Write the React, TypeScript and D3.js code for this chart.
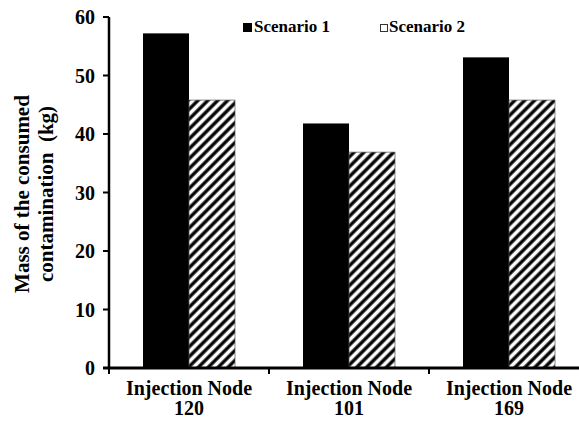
import React from "react";
import * as d3 from "d3";

const categories = ["120", "101", "169"];
const categoryPrefix = "Injection Node";
const seriesNames = ["Scenario 1", "Scenario 2"];
const scenario1 = [57.2, 41.8, 53.1];
const scenario2 = [45.8, 36.9, 45.8];
const yTicks = [0, 10, 20, 30, 40, 50, 60];
const yTitleLines = ["Mass of the consumed", "contamination  (kg)"];

const W = 579;
const H = 421;
const FONT = "'Liberation Serif', 'Times New Roman', serif";

export default function App() {
  const x0 = d3.scaleBand<string>().domain(categories).range([109, 589]).paddingInner(0).paddingOuter(0);
  const x1 = d3.scaleBand<string>().domain(seriesNames).range([0, x0.bandwidth()]).paddingInner(0).paddingOuter(0.739);
  const y = d3.scaleLinear().domain([0, 60]).range([368, 17]);
  const values = [scenario1, scenario2];

  return (
    <svg width={W} height={H} style={{ position: "absolute", left: 0, top: 0, background: "#fff" }} fontFamily={FONT}>
      <defs>
        <linearGradient id="stripeGrad" x1="0" x2="1" y1="0" y2="0">
          <stop offset="0" stopColor="#000" />
          <stop offset="0.28" stopColor="#000" />
          <stop offset="0.5" stopColor="#fff" />
          <stop offset="0.78" stopColor="#fff" />
          <stop offset="1" stopColor="#000" />
        </linearGradient>
        <pattern id="hatch" patternUnits="userSpaceOnUse" width="7" height="20" patternTransform="rotate(45)">
          <rect x="0" y="0" width="7" height="20" fill="url(#stripeGrad)" />
        </pattern>
      </defs>
      <rect x={0} y={0} width={W} height={H} fill="#fff" />
      {categories.map((c, ci) =>
        seriesNames.map((s, si) => {
          const v = values[si][ci];
          const bx = (x0(c) as number) + (x1(s) as number);
          return (
            <rect
              key={c + s}
              x={bx}
              y={y(v)}
              width={x1.bandwidth()}
              height={y(0) - y(v)}
              fill={si === 0 ? "#000" : "url(#hatch)"}
              stroke={si === 0 ? "none" : "#555"}
              strokeWidth={si === 0 ? 0 : 0.7}
            />
          );
        })
      )}
      <line x1={109} x2={109} y1={y(60)} y2={y(0)} stroke="#000" strokeWidth={2.5} />
      {yTicks.map((t) => (
        <g key={t}>
          <line x1={103} x2={109} y1={y(t)} y2={y(t)} stroke="#000" strokeWidth={2} />
          <text x={95} y={y(t)} dy="0.35em" textAnchor="end" fontSize={20} fontWeight="bold">
            {t}
          </text>
        </g>
      ))}
      <line x1={103} x2={579} y1={y(0)} y2={y(0)} stroke="#000" strokeWidth={3} />
      {categories.map((c) => (
        <line key={"t" + c} x1={x0(c) as number} x2={x0(c) as number} y1={y(0)} y2={y(0) + 6} stroke="#000" strokeWidth={2} />
      ))}
      {categories.map((c) => {
        const cx = (x0(c) as number) + x0.bandwidth() / 2;
        return (
          <g key={"l" + c}>
            <text x={cx} y={395} textAnchor="middle" fontSize={20} fontWeight="bold">
              {categoryPrefix}
            </text>
            <text x={cx} y={415} textAnchor="middle" fontSize={20} fontWeight="bold">
              {c}
            </text>
          </g>
        );
      })}
      <g transform="translate(0,194) rotate(-90)" fontSize={21} fontWeight="bold">
        <text x={0} y={29} textAnchor="middle">
          {yTitleLines[0]}
        </text>
        <text x={0} y={53} textAnchor="middle" style={{ whiteSpace: "pre" }}>
          {yTitleLines[1]}
        </text>
      </g>
      <rect x={243} y={23} width={9} height={9} fill="#000" />
      <text x={254} y={32} fontSize={17} fontWeight="bold">
        {seriesNames[0]}
      </text>
      <rect x={380.5} y={24.5} width={7} height={7} fill="#fff" stroke="#333" strokeWidth={1} />
      <text x={389} y={32} fontSize={17} fontWeight="bold">
        {seriesNames[1]}
      </text>
    </svg>
  );
}
